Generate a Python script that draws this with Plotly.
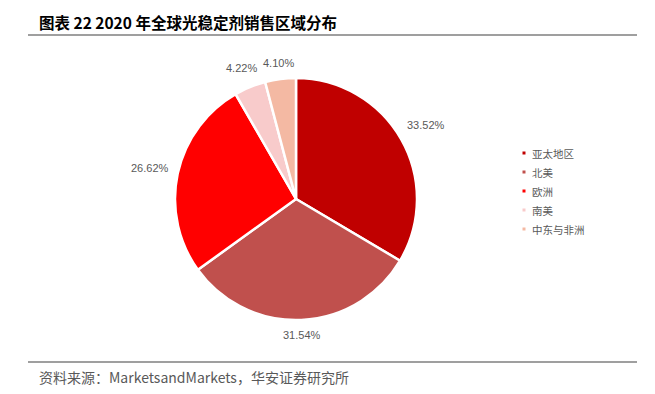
import math
import plotly.graph_objects as go

regions = ["亚太地区", "北美", "欧洲", "南美", "中东与非洲"]
shares = [33.52, 31.54, 26.62, 4.22, 4.10]
labels_txt = ["33.52%", "31.54%", "26.62%", "4.22%", "4.10%"]
colors = ["#C00000", "#C0504D", "#FF0000", "#F8CBCB", "#F4B9A3"]

W, H = 655, 394
cx, cy, R = 296, 199, 121
fig = go.Figure()
fig.add_trace(go.Pie(
    labels=regions, values=shares, textinfo="none",
    sort=False, direction="clockwise", rotation=0,
    marker=dict(colors=colors, line=dict(color="white", width=2.5)),
    showlegend=False, hoverinfo="label+percent",
    domain=dict(x=[(cx - R) / W, (cx + R) / W], y=[1 - (cy + R) / H, 1 - (cy - R) / H]),
))

ann = []
shapes = []

# outside percentage labels placed at each slice's mid-angle
total = sum(shares)
cum = 0.0
for v, t in zip(shares, labels_txt):
    mid = (cum + v / 2) / total * 2 * math.pi
    cum += v
    dx, dy = math.sin(mid), -math.cos(mid)
    r = R + 8 + abs(dx) * 20 + abs(dy) * 6
    px, py = cx + r * dx, cy + r * dy
    ann.append(dict(text=t, x=px / W, y=1 - py / H, xref="paper", yref="paper",
                    xanchor="center", yanchor="middle", showarrow=False,
                    font=dict(family="Liberation Sans, Arial", size=11, color="#595959")))

# legend built from data
for i, (rname, c) in enumerate(zip(regions, colors)):
    yy = 153 + i * 19
    shapes.append(dict(type="rect", xref="paper", yref="paper",
                       x0=522.5 / W, x1=525.5 / W, y0=1 - (yy + 1.5) / H, y1=1 - (yy - 1.5) / H,
                       fillcolor=c, line=dict(width=0)))
    ann.append(dict(text=rname, x=530 / W, y=1 - yy / H, xref="paper", yref="paper",
                    xanchor="left", yanchor="middle", showarrow=False,
                    font=dict(family="Noto Sans CJK SC", size=10.5, color="#595959")))

ann.append(dict(text="<b>图表 22 2020 年全球光稳定剂销售区域分布</b>", x=37 / W, y=1 - 22 / H,
                xref="paper", yref="paper", xanchor="left", yanchor="middle", showarrow=False,
                font=dict(family="Noto Sans CJK SC", size=15.5, color="#000000")))
ann.append(dict(text="资料来源：MarketsandMarkets，华安证券研究所", x=37 / W, y=1 - 377 / H,
                xref="paper", yref="paper", xanchor="left", yanchor="middle", showarrow=False,
                font=dict(family="Noto Sans CJK SC", size=14, color="#595959")))
shapes.append(dict(type="line", xref="paper", yref="paper", x0=28 / W, x1=637 / W,
                   y0=1 - 35 / H, y1=1 - 35 / H, line=dict(color="#7F7F7F", width=1.5)))
shapes.append(dict(type="line", xref="paper", yref="paper", x0=28 / W, x1=637 / W,
                   y0=1 - 362 / H, y1=1 - 362 / H, line=dict(color="#7F7F7F", width=1.5)))

fig.update_layout(width=W, height=H, margin=dict(l=0, r=0, t=0, b=0),
                  paper_bgcolor="white", plot_bgcolor="white",
                  annotations=ann, shapes=shapes)
fig.write_html("out.html")
